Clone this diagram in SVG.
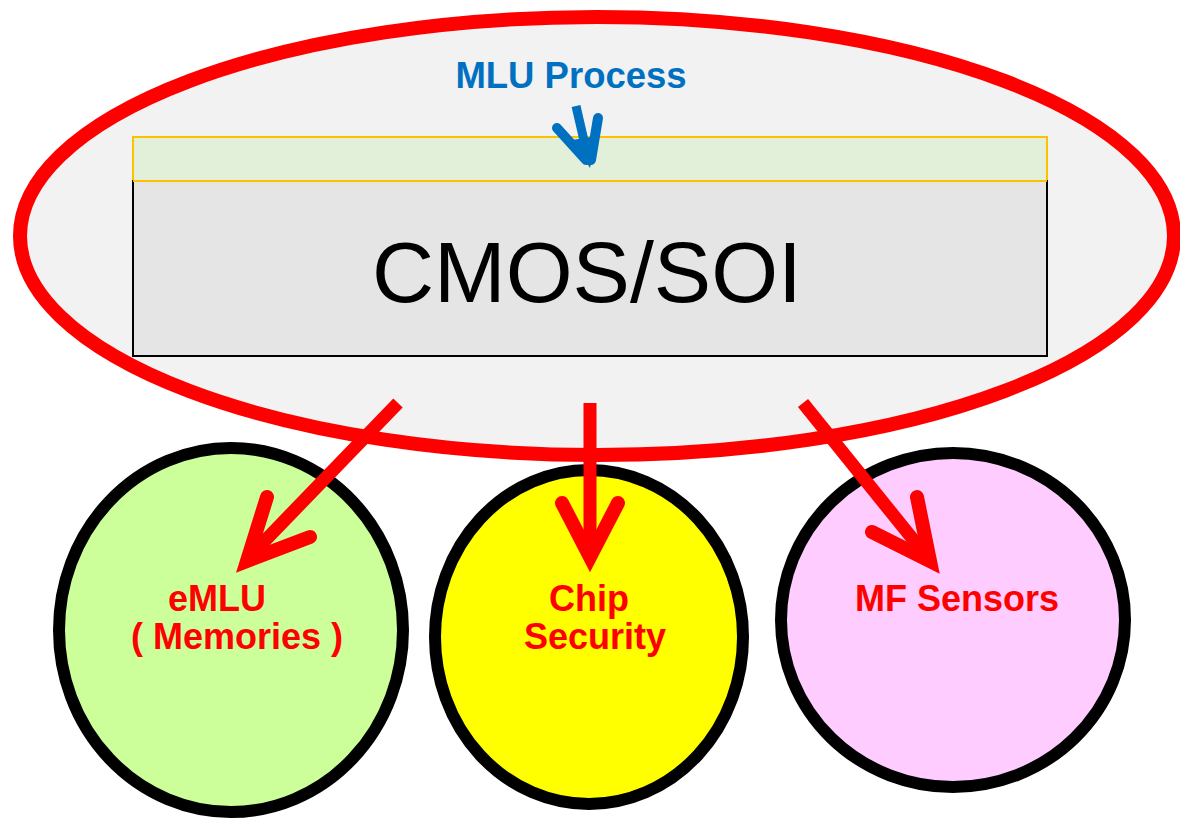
<svg xmlns="http://www.w3.org/2000/svg" width="1180" height="818" viewBox="0 0 1180 818">
<style>
.node-circle{stroke:#000;stroke-width:12}
.lbl{font-family:"Liberation Sans",Arial,sans-serif;font-weight:bold;font-size:36px;fill:#FF0000;text-anchor:middle}
.red-arrow{fill:none;stroke:#FF0000;stroke-width:13}
.red-head{fill:none;stroke:#FF0000;stroke-width:14;stroke-linecap:round;stroke-linejoin:miter}
.blue{stroke:#0070C0;fill:none}
</style>
<rect width="1180" height="818" fill="#FFFFFF"/>
<g id="platform">
  <ellipse cx="597" cy="236" rx="577" ry="219" fill="#F2F2F2" stroke="#FF0000" stroke-width="14"/>
  <text x="571" y="88" font-family="'Liberation Sans',Arial,sans-serif" font-weight="bold" font-size="36.5" fill="#0070C0" text-anchor="middle">MLU Process</text>
  <rect x="133" y="137" width="914" height="44" fill="#E2F0D9" stroke="#FFC000" stroke-width="2"/>
  <rect x="133" y="181" width="914" height="175" fill="#E5E5E5" stroke="#000" stroke-width="2"/>
  <line x1="133" y1="181" x2="1047" y2="181" stroke="#FFC000" stroke-width="2"/>
  <text x="587" y="302" font-family="'Liberation Sans',Arial,sans-serif" font-size="86" fill="#000" text-anchor="middle">CMOS/SOI</text>
  <g id="blue-arrow">
    <line class="blue" x1="576" y1="106" x2="588" y2="158" stroke-width="9"/>
    <line class="blue" x1="557" y1="128" x2="586" y2="160" stroke-width="10" stroke-linecap="round"/>
    <line class="blue" x1="598" y1="118" x2="591" y2="160" stroke-width="10" stroke-linecap="round"/>
    <polygon points="572,140 590,168 597,136" fill="#0070C0"/>
  </g>
</g>
<g id="emlu">
  <ellipse cx="231" cy="630" rx="172" ry="182" fill="#CCFF99" class="node-circle"/>
  <text class="lbl" x="217" y="611">eMLU</text>
  <text class="lbl" x="237" y="649">( Memories )</text>
</g>
<g id="chip-security">
  <ellipse cx="589" cy="637" rx="154" ry="167" fill="#FFFF00" class="node-circle"/>
  <text class="lbl" x="589" y="611">Chip</text>
  <text class="lbl" x="595" y="649">Security</text>
</g>
<g id="mf-sensors">
  <ellipse cx="953" cy="620" rx="172" ry="167" fill="#FFCCFF" class="node-circle"/>
  <text class="lbl" x="957" y="611">MF Sensors</text>
</g>
<g id="connectors">
  <line class="red-arrow" x1="398" y1="403" x2="254" y2="552"/>
  <polyline class="red-head" points="267,497 247,561 310,537"/>
  <line class="red-arrow" x1="590" y1="403" x2="590" y2="552"/>
  <polyline class="red-head" points="562,503 590,557 618,503"/>
  <line class="red-arrow" x1="803" y1="403" x2="924" y2="553"/>
  <polyline class="red-head" points="917,497 930,561 872,532"/>
</g>
</svg>
